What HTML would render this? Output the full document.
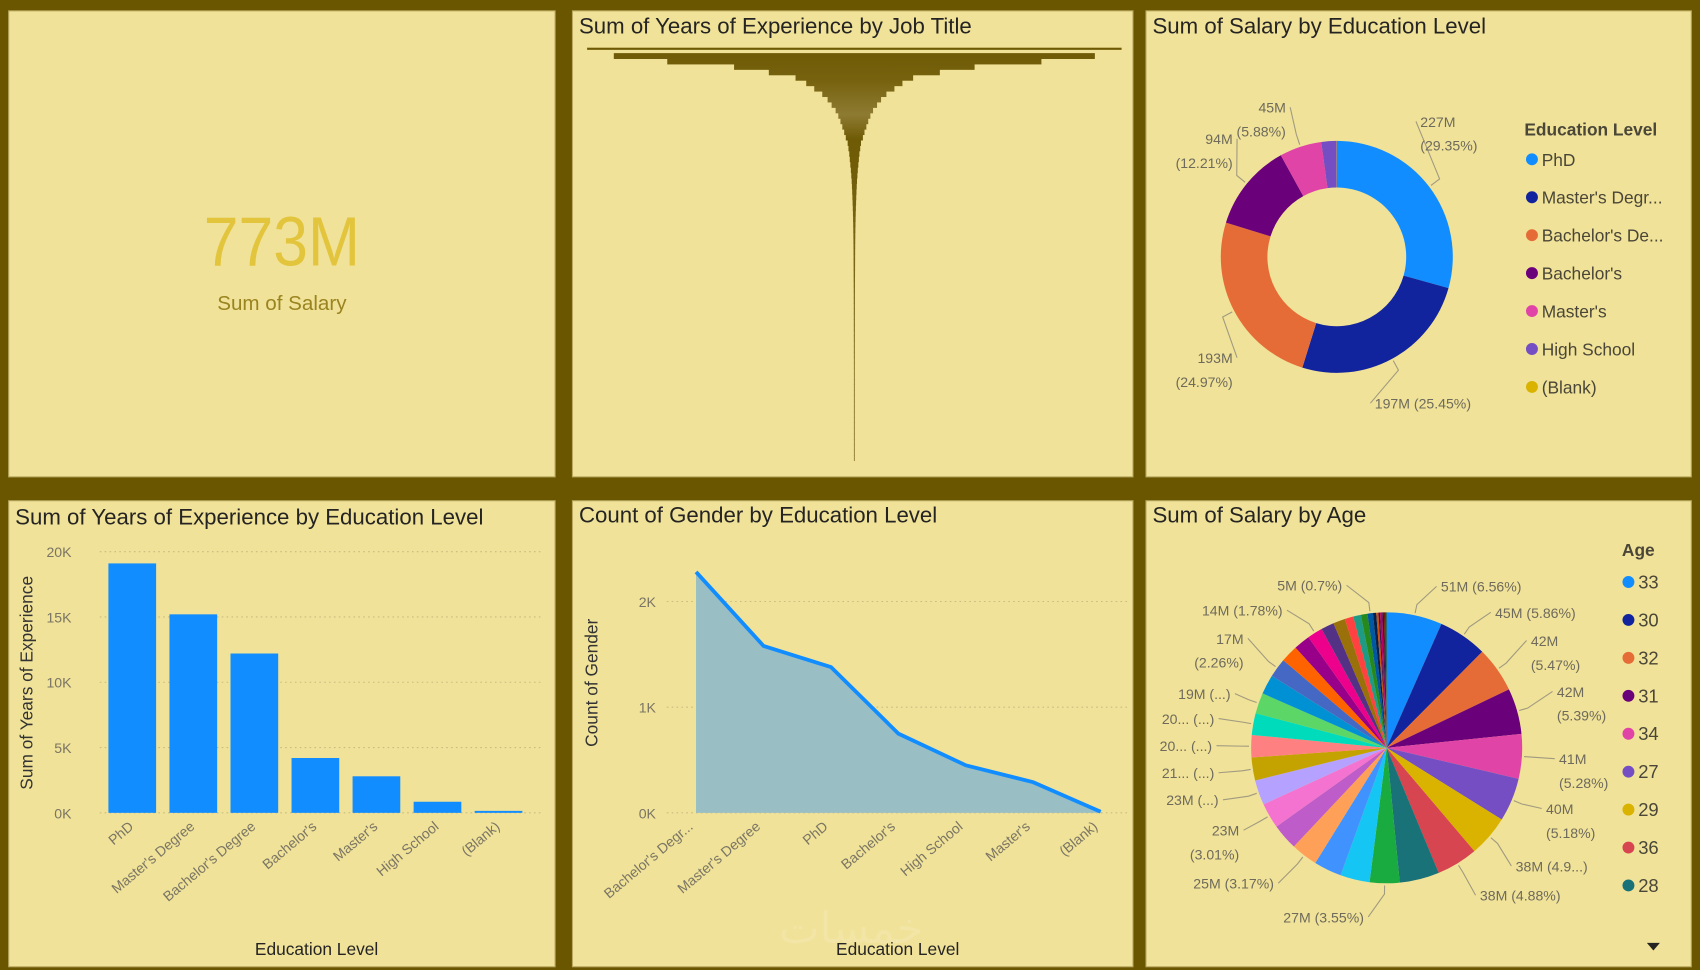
<!DOCTYPE html>
<html><head><meta charset="utf-8">
<style>
html,body{margin:0;padding:0;background:#6b5600;width:1700px;height:970px;overflow:hidden}
svg{display:block}
text{font-family:"Liberation Sans","DejaVu Sans",sans-serif}
</style></head>
<body>
<svg id="dash" width="1700" height="970" viewBox="0 0 1568 895" preserveAspectRatio="none" xmlns="http://www.w3.org/2000/svg">
<defs>
<linearGradient id="fg" x1="0" y1="45" x2="0" y2="425" gradientUnits="userSpaceOnUse">
<stop offset="0" stop-color="#6e5a05"/><stop offset="0.08" stop-color="#77630f"/><stop offset="0.16" stop-color="#8e7b32"/><stop offset="0.22" stop-color="#6f5b05"/><stop offset="1" stop-color="#8a7630"/>
</linearGradient>
</defs>
<rect x="0" y="0" width="1568" height="895" fill="#6b5600"/>
<g id="panels"></g>
<g id="kpi">
<text x="260" y="245" text-anchor="middle" font-size="64" fill="#e3c53d" transform="translate(260 0) scale(0.9 1) translate(-260 0)">773M</text>
<text x="260" y="286" text-anchor="middle" font-size="19" fill="#9a8420">Sum of Salary</text>
</g>
<g id="funnel"></g>
<g id="donut"></g>
<g id="bars"></g>
<g id="area"></g>
<g id="pie"></g>
<text x="785" y="870" text-anchor="middle" font-size="40" fill="#ffffff" fill-opacity="0.13" font-family="DejaVu Sans">خمسات</text>
</svg>
<script>
// ---------- data ----------
const funnelValues = [100,90,70,45,32,22,18,15,12,10,8.5,7,6,5.2,4.5,3.8,3.2,2.5,2.2,1.9,1.7,1.5,1.3,1.15,1.0,0.9,0.8,0.72,0.65,0.58,0.52,0.47,0.43,0.39,0.36,0.34,0.32,0.3,0.29,0.28,0.27,0.26,0.25,0.24,0.23,0.22,0.22,0.21,0.21,0.2,0.2,0.2,0.19,0.19,0.18,0.18,0.18,0.17,0.17,0.16,0.16,0.15,0.15,0.14,0.14,0.13,0.13,0.12,0.12,0.11,0.11,0.1,0.1,0.09,0.08,0.07];

const eduCats = ["PhD","Master's Degree","Bachelor's Degree","Bachelor's","Master's","High School","(Blank)"];
const eduSalaryPct = [29.35,25.45,24.97,12.21,5.88,2.1,0.04];
const eduColors = ["#118dff","#12239e","#e66c37","#6b007b","#e044a7","#744ec2","#d9b300"];
const eduLegendNames = ["PhD","Master's Degr...","Bachelor's De...","Bachelor's","Master's","High School","(Blank)"];

const barCats = ["PhD","Master's Degree","Bachelor's Degree","Bachelor's","Master's","High School","(Blank)"];
const barValues = [19100,15200,12200,4200,2800,850,150];
const barTicks = [0,5000,10000,15000,20000];
const barTickLabels = ["0K","5K","10K","15K","20K"];

const areaCats = ["Bachelor's Degr...","Master's Degree","PhD","Bachelor's","High School","Master's","(Blank)"];
const areaValues = [2280,1580,1380,750,450,290,10];
const areaTicks = [0,1000,2000];
const areaTickLabels = ["0K","1K","2K"];

const ageCats = [33,30,32,31,34,27,29,36,28,35,26,37,25,38,24,39,40,41,42,43,44,45,46,47,48,49,50,51,52,53,54,55,56,57,58,59,60,61];
const ageValues = [51,45,42,42,41,40,38,38,36.5,27.4,27,25.5,24.5,24,23.3,23,21,20.5,20,19,18,17.5,16,15,14,12,11,8,7,6,5,3,2,1.5,2,1.5,1.5,1];
const ageColors = ["#118dff","#12239e","#e66c37","#6b007b","#e044a7","#744ec2","#d9b300","#d64550","#197278","#1aab40","#15c6f4","#4092ff","#ffa058","#be5dc9","#f472d0","#b5a1ff","#c4a200","#ff8080","#00dbbc","#5bd667","#0091d5","#4668c5","#ff6300","#99008a","#ec008c","#533285","#99700a","#ff4141","#1f9a85","#25891c","#0057a2","#002050","#c94f0f","#450f54","#b60064","#34124f","#6a1c00","#0e4c40"];
const ageLabels = ["51M (6.56%)","45M (5.86%)","42M|(5.47%)","42M|(5.39%)","41M|(5.28%)","40M|(5.18%)","38M (4.9...)","38M (4.88%)","","27M (3.55%)","","","25M (3.17%)","","23M|(3.01%)","23M (...)","21... (...)","20... (...)","20... (...)","19M (...)","","17M|(2.26%)","","","14M (1.78%)","","","","","","5M (0.7%)","","","","","","",""];
// ---------- helpers ----------
const NS="http://www.w3.org/2000/svg";
function mk(tag,attrs,parent,txt){const e=document.createElementNS(NS,tag);for(const k in attrs)e.setAttribute(k,attrs[k]);if(txt!==undefined)e.textContent=txt;parent.appendChild(e);return e;}
function pt(cx,cy,r,a){return [cx+r*Math.sin(a),cy-r*Math.cos(a)];}
const panelsG=document.getElementById('panels');
const panelRects=[[8,10,504,430,'kpi-panel'],[528,10,517,430,'funnel-panel'],[1057,10,503,430,'donut-panel'],[8,462,504,430,'bar-panel'],[528,462,517,430,'area-panel'],[1057,462,503,430,'pie-panel']];
panelRects.forEach(p=>{const r=mk('rect',{x:p[0],y:p[1],width:p[2],height:p[3],fill:'#f0e298',stroke:'#b8a860','stroke-width':1},panelsG);

});
function title(g,x,y,s){const t=mk('text',{x:x,y:y,'font-size':20.5,fill:'#252423'},g,s);

}
// ---------- funnel ----------
(function(){const g=document.getElementById('funnel');title(g,534,31,'Sum of Years of Experience by Job Title');
const cx=788,top=44,bottom=425,maxW=493,h=(bottom-top)/funnelValues.length;const mx=Math.max(...funnelValues);
funnelValues.forEach((v,i)=>{const w=Math.max(0.8,v/mx*maxW);const r=mk('rect',{x:cx-w/2,y:top+i*h,width:w,height:i==0?2:h+0.4,fill:'url(#fg)'},g);

});})();
// ---------- donut ----------
(function(){const g=document.getElementById('donut');title(g,1063,31,'Sum of Salary by Education Level');
const cx=1233,cy=237,R=107,r0=64;const tot=eduSalaryPct.reduce((a,b)=>a+b,0);let a0=0;
eduSalaryPct.forEach((v,i)=>{const a1=a0+v/tot*2*Math.PI;const p1=pt(cx,cy,R,a0),p2=pt(cx,cy,R,a1),p3=pt(cx,cy,r0,a1),p4=pt(cx,cy,r0,a0);const lg=(a1-a0)>Math.PI?1:0;
const s=mk('path',{d:`M${p1}A${R},${R} 0 ${lg} 1 ${p2}L${p3}A${r0},${r0} 0 ${lg} 0 ${p4}Z`,fill:eduColors[i]},g);

a0=a1;});
const labs=[[0,'227M','(29.35%)',1310,117,'start'],[1,'197M (25.45%)','',1268,377,'start'],[2,'193M','(24.97%)',1137,335,'end'],[3,'94M','(12.21%)',1137,133,'end'],[4,'45M','(5.88%)',1186,104,'end']];
let cum=[0];eduSalaryPct.forEach((v,i)=>cum.push(cum[i]+v/tot*2*Math.PI));
labs.forEach(L=>{const i=L[0];const am=(cum[i]+cum[i+1])/2;const q1=pt(cx,cy,R+2,am),q2=pt(cx,cy,R+12,am);const ex=L[5]=='start'?L[3]-4:L[3]+4;const ey=L[4]-5;
const pl=mk('polyline',{points:`${q1} ${q2} ${ex},${ey}`,fill:'none',stroke:'#a09a80','stroke-width':1},g);


const t=mk('text',{x:L[3],y:L[4],'font-size':13,fill:'#6e6a5c','text-anchor':L[5]},g,L[1]);


if(L[2]){const t2=mk('text',{x:L[3],y:L[4]+22,'font-size':13,fill:'#6e6a5c','text-anchor':L[5]},g,L[2]);

}});
const lt=mk('text',{x:1406,y:125,'font-size':16,'font-weight':'bold',fill:'#4a4638'},g,'Education Level');


eduLegendNames.forEach((n,i)=>{const y=147+i*35;const c=mk('circle',{cx:1413,cy:y,r:5.5,fill:eduColors[i]},g);


const t=mk('text',{x:1422,y:y+6,'font-size':16,fill:'#4a4638'},g,n);

});})();
// ---------- bar chart ----------
(function(){const g=document.getElementById('bars');title(g,14,484,'Sum of Years of Experience by Education Level');
const y0=750,y1=509,ymax=20000;const Y=v=>y0-(v/ymax)*(y0-y1);const x0=94,step=56.3,bw=44;
barTicks.forEach((t,i)=>{const l=mk('line',{x1:92,x2:500,y1:Y(t),y2:Y(t),stroke:'#c9bc82','stroke-dasharray':'1.5,3'},g);


const tx=mk('text',{x:66,y:Y(t)+5,'font-size':13,fill:'#7a7564','text-anchor':'end'},g,barTickLabels[i]);

});
barValues.forEach((v,i)=>{const x=x0+6+i*step;const r=mk('rect',{x:x,y:Y(v),width:bw,height:y0-Y(v),fill:'#118dff'},g);


const cxl=x+bw/2+2;const t=mk('text',{x:cxl,y:764,'font-size':13,fill:'#7a7564','text-anchor':'end',transform:`rotate(-40 ${cxl} 764)`},g,barCats[i]);

});
const yt=mk('text',{x:0,y:0,'font-size':16,fill:'#333','text-anchor':'middle',transform:'translate(30 630) rotate(-90)'},g,'Sum of Years of Experience');


const xt=mk('text',{x:292,y:881,'font-size':16,fill:'#252423','text-anchor':'middle'},g,'Education Level');

})();
// ---------- area chart ----------
(function(){const g=document.getElementById('area');title(g,534,482,'Count of Gender by Education Level');
const y0=750,y2=555;const Y=v=>y0-(v/2000)*(y0-y2);const X=i=>642+i*62.2;
areaTicks.forEach((t,i)=>{const l=mk('line',{x1:615,x2:1040,y1:Y(t),y2:Y(t),stroke:'#c9bc82','stroke-dasharray':'1.5,3'},g);


const tx=mk('text',{x:605,y:Y(t)+5,'font-size':13,fill:'#7a7564','text-anchor':'end'},g,areaTickLabels[i]);

});
const pts=areaValues.map((v,i)=>X(i)+','+Y(v)).join(' ');
const ar=mk('polygon',{points:`${X(0)},${y0} ${pts} ${X(areaValues.length-1)},${y0}`,fill:'#99bfc4'},g);


const ln=mk('polyline',{points:pts,fill:'none',stroke:'#118dff','stroke-width':3.5,'stroke-linejoin':'round'},g);


areaCats.forEach((c,i)=>{const cxl=X(i)-2;const t=mk('text',{x:cxl,y:764,'font-size':13,fill:'#7a7564','text-anchor':'end',transform:`rotate(-40 ${cxl} 764)`},g,c);

});
const yt=mk('text',{x:0,y:0,'font-size':16,fill:'#333','text-anchor':'middle',transform:'translate(551 630) rotate(-90)'},g,'Count of Gender');


const xt=mk('text',{x:828,y:881,'font-size':16,fill:'#252423','text-anchor':'middle'},g,'Education Level');

})();
// ---------- pie ----------
(function(){const g=document.getElementById('pie');title(g,1063,482,'Sum of Salary by Age');
const cx=1279,cy=690,R=125;const tot=ageValues.reduce((a,b)=>a+b,0);let a0=0;const cum=[0];
ageValues.forEach((v,i)=>{const a1=a0+v/tot*2*Math.PI;cum.push(a1);const p1=pt(cx,cy,R,a0),p2=pt(cx,cy,R,a1);const lg=(a1-a0)>Math.PI?1:0;
const s=mk('path',{d:`M${cx},${cy}L${p1}A${R},${R} 0 ${lg} 1 ${p2}Z`,fill:ageColors[i%ageColors.length]},g);

a0=a1;});
const labelPos={0:[1329,546,'start'],1:[1379,570,'start'],2:[1412,596,'start'],3:[1436,643,'start'],4:[1438,705,'start'],5:[1426,751,'start'],6:[1398,804,'start'],7:[1365,831,'start'],9:[1258,851,'end'],12:[1175,820,'end'],14:[1143,771,'end'],15:[1124,743,'end'],16:[1120,718,'end'],17:[1118,693,'end'],18:[1120,668,'end'],19:[1135,645,'end'],21:[1147,594,'end'],24:[1183,568,'end'],30:[1238,545,'end']};
ageValues.forEach((v,i)=>{const lab=ageLabels[i];if(!lab||!labelPos[i])return;const P=labelPos[i];const parts=lab.split('|');
const am=(cum[i]+cum[i+1])/2;const q1=pt(cx,cy,R+2,am),q2=pt(cx,cy,R+10,am);const ex=P[2]=='start'?P[0]-4:P[0]+4;
const pl=mk('polyline',{points:`${q1} ${q2} ${ex},${P[1]-5}`,fill:'none',stroke:'#a09a80','stroke-width':1},g);


parts.forEach((s,k)=>{const t=mk('text',{x:P[0],y:P[1]+k*22,'font-size':13,fill:'#6e6a5c','text-anchor':P[2]},g,s);

});});
const lt=mk('text',{x:1496,y:513,'font-size':16,'font-weight':'bold',fill:'#4a4638'},g,'Age');


for(let i=0;i<9;i++){const y=537+i*35;const c=mk('circle',{cx:1502,cy:y,r:5.5,fill:ageColors[i]},g);


const t=mk('text',{x:1511,y:y+6,'font-size':17,fill:'#4a4638'},g,String(ageCats[i]));

}
const ar=mk('polygon',{points:'1519,870 1531,870 1525,877',fill:'#252423'},g);

})();
</script>
</body></html>
